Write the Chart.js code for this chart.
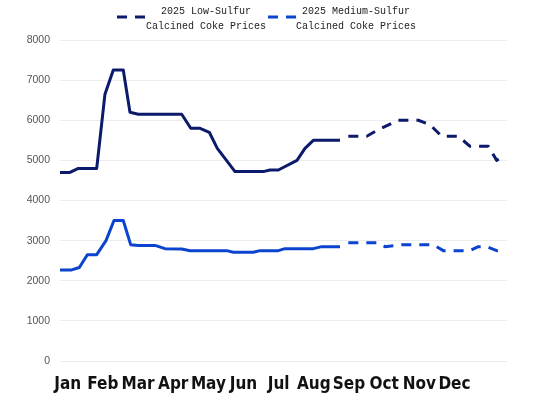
<!DOCTYPE html>
<html>
<head>
<meta charset="utf-8">
<script src="https://cdn.jsdelivr.net/npm/chart.js@4/dist/chart.umd.min.js"></script>
<style>
  html, body { margin: 0; padding: 0; background: #fff; }
  #wrap { width: 550px; height: 401px; }
</style>
</head>
<body>
<div id="wrap"><canvas id="priceChart"></canvas></div>
<script>
// axis labels
const months = ['Jan', 'Feb', 'Mar', 'Apr', 'May', 'Jun', 'Jul', 'Aug', 'Sep', 'Oct', 'Nov', 'Dec'];
const yMax = 8000;
const yStep = 1000;

// low-sulfur, actual (x = weeks from start of year)
const lowActualWeeks  = [0, 1.16, 2.13, 4.27, 5.23, 6.2, 7.36, 8.14, 9.1, 14.16, 15.21, 16.29, 17.37, 18.3, 20.36, 23.65, 24.43, 25.4, 27.57, 28.5, 29.47, 32.57];
const lowActualPrices = [4700, 4700, 4800, 4800, 6650, 7250, 7250, 6200, 6150, 6150, 5800, 5800, 5700, 5300, 4720, 4720, 4760, 4760, 5000, 5300, 5500, 5500];
// low-sulfur, forecast
const lowForecastWeeks  = [33.54, 35.68, 36.99, 39.32, 41.68, 43.04, 44.4, 46.34, 47.7, 49.83, 50.8, 51.38];
const lowForecastPrices = [5600, 5600, 5760, 6000, 6000, 5890, 5600, 5600, 5350, 5350, 5000, 5080];

// medium-sulfur, actual
const medActualWeeks  = [0, 1.36, 2.25, 3.18, 4.27, 5.35, 6.28, 7.36, 8.22, 9.1, 11.05, 12.21, 14.16, 15.12, 19.39, 20.16, 22.49, 23.27, 25.4, 26.17, 29.47, 30.44, 32.57];
const medActualPrices = [2270, 2270, 2330, 2650, 2650, 3000, 3500, 3500, 2900, 2880, 2880, 2800, 2790, 2750, 2750, 2710, 2710, 2750, 2750, 2800, 2800, 2850, 2850];
// medium-sulfur, forecast
const medForecastWeeks  = [33.54, 36.84, 37.81, 39.94, 43.43, 44.59, 47.7, 48.66, 49.64, 50.8, 51.57];
const medForecastPrices = [2950, 2950, 2850, 2900, 2900, 2750, 2750, 2850, 2850, 2750, 2750];

const lowColor = '#0c1a6c';
const medColor = '#0a44cf';

function toPoints(xs, ys) {
    return xs.map((x, i) => ({ x: x, y: ys[i] }));
}

// two-line legend with dashed icons, drawn on the canvas
const dashLegend = {
    id: 'dashLegend',
    afterDraw(chart) {
        const ctx = chart.ctx;
        const entries = chart.data.datasets.filter(d => d.legendText);
        const iconX = [117, 268];
        const textX = [206, 356];
        ctx.save();
        entries.forEach((ds, i) => {
            ctx.strokeStyle = ds.borderColor;
            ctx.lineWidth = 3;
            ctx.setLineDash([10, 8]);
            ctx.beginPath();
            ctx.moveTo(iconX[i], 17);
            ctx.lineTo(iconX[i] + 28, 17);
            ctx.stroke();
            ctx.setLineDash([]);
            ctx.fillStyle = '#222';
            ctx.font = '10px "Liberation Mono", "DejaVu Sans Mono", monospace';
            ctx.textAlign = 'center';
            ctx.textBaseline = 'middle';
            ds.legendText.forEach((line, j) => ctx.fillText(line, textX[i], 11 + j * 15));
        });
        ctx.restore();
    }
};

const ctx = document.getElementById('priceChart').getContext('2d');
new Chart(ctx, {
    type: 'line',
    data: {
        datasets: [
            {
                data: toPoints(lowActualWeeks, lowActualPrices),
                borderColor: lowColor,
                borderWidth: 3
            },
            {
                data: toPoints(lowForecastWeeks, lowForecastPrices),
                borderColor: lowColor,
                borderWidth: 3,
                borderDash: [10, 8],
                legendText: ['2025 Low-Sulfur', 'Calcined Coke Prices']
            },
            {
                data: toPoints(medActualWeeks, medActualPrices),
                borderColor: medColor,
                borderWidth: 3
            },
            {
                data: toPoints(medForecastWeeks, medForecastPrices),
                borderColor: medColor,
                borderWidth: 3,
                borderDash: [10, 8],
                legendText: ['2025 Medium-Sulfur', 'Calcined Coke Prices']
            }
        ]
    },
    options: {
        responsive: true,
        maintainAspectRatio: false,
        animation: false,
        layout: { padding: { top: 40, right: 43, left: 0, bottom: 0 } },
        elements: {
            point: { radius: 0 },
            line: { tension: 0, borderJoinStyle: 'round' }
        },
        plugins: {
            legend: { display: false },
            tooltip: { enabled: false }
        },
        scales: {
            x: {
                type: 'linear',
                min: 0,
                max: 52,
                grid: { display: false },
                border: { display: false },
                afterBuildTicks: (scale) => {
                    scale.ticks = months.map((m, i) => ({ value: 0.9 + i * 4.09 }));
                },
                afterFit: (scale) => { scale.height = 40; },
                ticks: {
                    autoSkip: false,
                    maxRotation: 0,
                    padding: 5,
                    color: '#111',
                    font: { family: '"Liberation Sans Narrow", "DejaVu Sans Condensed", "Liberation Sans"', size: 17, weight: 'bold' },
                    callback: (value, index) => months[index]
                }
            },
            y: {
                min: 0,
                max: yMax,
                grid: { color: '#ececec', drawTicks: false },
                border: { display: false },
                afterFit: (scale) => { scale.width = 60; },
                ticks: {
                    stepSize: yStep,
                    padding: 10,
                    color: '#555',
                    font: { family: '"Liberation Sans", Arial', size: 10.5 },
                    callback: (value) => String(value)
                }
            }
        }
    },
    plugins: [dashLegend]
});
</script>
</body>
</html>
